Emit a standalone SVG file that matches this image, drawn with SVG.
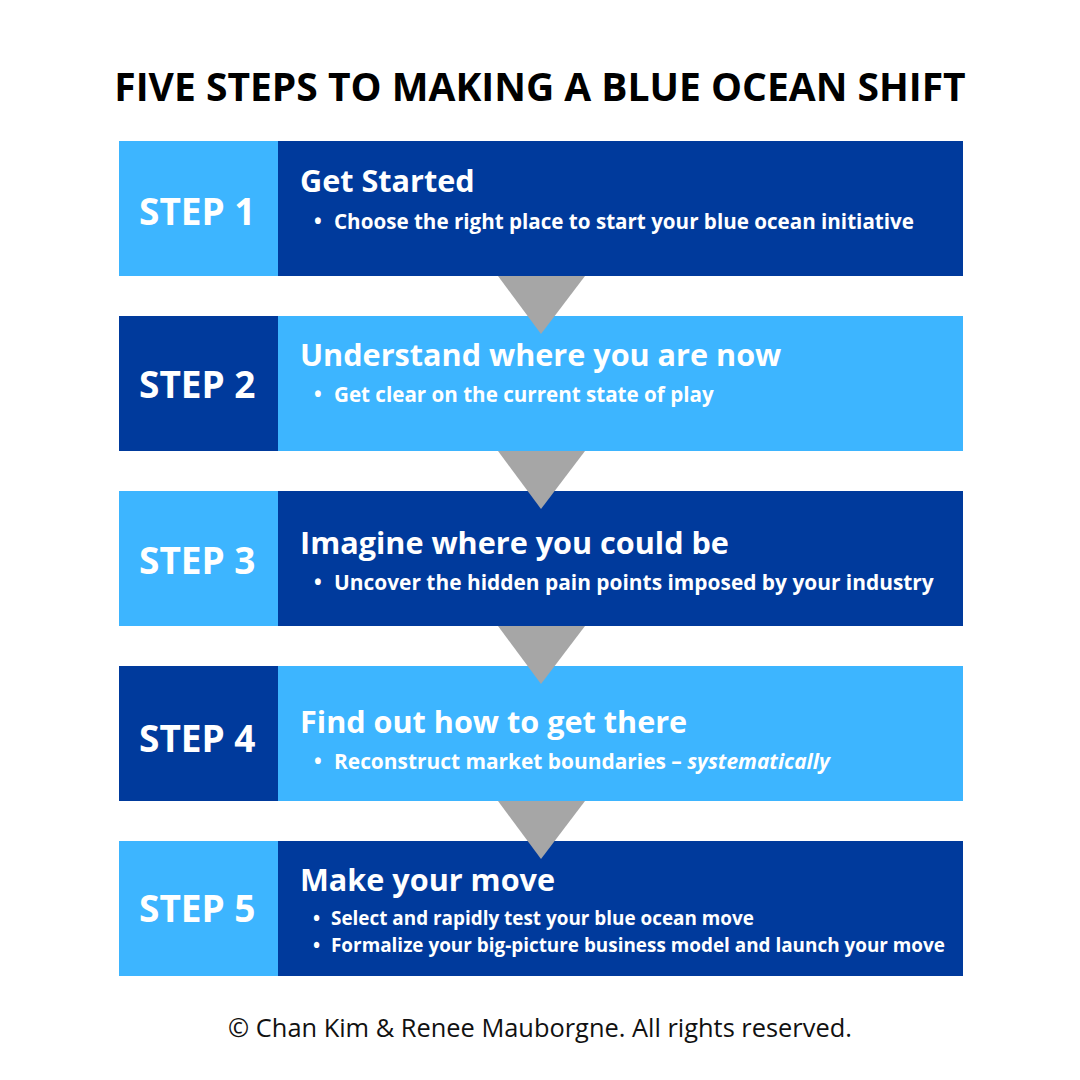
<svg xmlns="http://www.w3.org/2000/svg" width="1080" height="1080" viewBox="0 0 1080 1080">
<style>
.dark{fill:#003a9c}
.light{fill:#3db5ff}
.tri{fill:#a6a6a6}
text{font-family:"Open Sans","Noto Sans","Liberation Sans",sans-serif;fill:#ffffff;font-weight:700}
.title{fill:#000000;font-size:39px;text-anchor:middle}
.step{font-size:37px}
.head{font-size:30.6px}
.bul{font-size:20.6px}
.bul5{font-size:18.9px}
.foot{fill:#111111;font-size:25.4px;font-weight:400;text-anchor:middle}
</style>
<rect width="1080" height="1080" fill="#ffffff"/>
<text class="title" x="540" y="101">FIVE STEPS TO MAKING A BLUE OCEAN SHIFT</text>

<g id="step1">
<rect class="light" x="119" y="141" width="159" height="135"/>
<rect class="dark" x="278" y="141" width="685" height="135"/>
<text class="step" x="139" y="225">STEP 1</text>
<text class="head" x="300" y="192">Get Started</text>
<text class="bul" x="314" y="229">•</text>
<text class="bul" x="334" y="229">Choose the right place to start your blue ocean initiative</text>
</g>
<g id="step2">
<rect class="dark" x="119" y="316" width="159" height="135"/>
<rect class="light" x="278" y="316" width="685" height="135"/>
<text class="step" x="139" y="398">STEP 2</text>
<text class="head" x="300" y="366">Understand where you are now</text>
<text class="bul" x="314" y="402">•</text>
<text class="bul" x="334" y="402">Get clear on the current state of play</text>
</g>
<g id="step3">
<rect class="light" x="119" y="491" width="159" height="135"/>
<rect class="dark" x="278" y="491" width="685" height="135"/>
<text class="step" x="139" y="574">STEP 3</text>
<text class="head" x="300" y="554">Imagine where you could be</text>
<text class="bul" x="314" y="590">•</text>
<text class="bul" x="334" y="590" style="font-size:20.9px">Uncover the hidden pain points imposed by your industry</text>
</g>
<g id="step4">
<rect class="dark" x="119" y="666" width="159" height="135"/>
<rect class="light" x="278" y="666" width="685" height="135"/>
<text class="step" x="139" y="752">STEP 4</text>
<text class="head" x="300" y="733">Find out how to get there</text>
<text class="bul" x="314" y="769">•</text>
<text class="bul" x="334" y="769" style="font-size:20.9px">Reconstruct market boundaries – <tspan font-style="italic">systematically</tspan></text>
</g>
<g id="step5">
<rect class="light" x="119" y="841" width="159" height="135"/>
<rect class="dark" x="278" y="841" width="685" height="135"/>
<text class="step" x="139" y="922">STEP 5</text>
<text class="head" x="300" y="891">Make your move</text>
<text class="bul5" x="313" y="925">•</text>
<text class="bul5" x="331" y="925">Select and rapidly test your blue ocean move</text>
<text class="bul5" x="313" y="952">•</text>
<text class="bul5" x="331" y="952">Formalize your big-picture business model and launch your move</text>
</g>

<g id="connectors">
<polygon class="tri" points="498,276 585,276 541,334"/>
<polygon class="tri" points="498,451 585,451 541,509"/>
<polygon class="tri" points="498,626 585,626 541,684"/>
<polygon class="tri" points="498,801 585,801 541,859"/>
</g>

<text class="foot" x="540" y="1037">© Chan Kim &amp; Renee Mauborgne. All rights reserved.</text>
</svg>
